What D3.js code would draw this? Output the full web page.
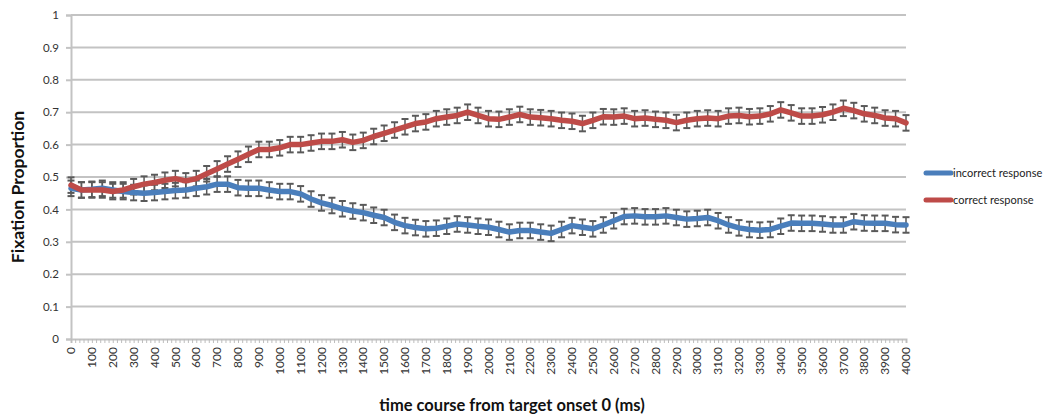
<!DOCTYPE html>
<html>
<head>
<meta charset="utf-8">
<script src="https://cdn.jsdelivr.net/npm/d3@7"></script>
<style>
  body { margin: 0; background: #fff; }
  svg { font-family: Lato, "Open Sans", sans-serif; }
</style>
</head>
<body>
<svg id="chart" width="1052" height="418"></svg>
<script>
// time points (ms)
const timeMs = [0, 50, 100, 150, 200, 250, 300, 350, 400, 450, 500, 550, 600, 650, 700, 750, 800, 850, 900, 950,
  1000, 1050, 1100, 1150, 1200, 1250, 1300, 1350, 1400, 1450, 1500, 1550, 1600, 1650, 1700, 1750, 1800, 1850, 1900, 1950,
  2000, 2050, 2100, 2150, 2200, 2250, 2300, 2350, 2400, 2450, 2500, 2550, 2600, 2650, 2700, 2750, 2800, 2850, 2900, 2950,
  3000, 3050, 3100, 3150, 3200, 3250, 3300, 3350, 3400, 3450, 3500, 3550, 3600, 3650, 3700, 3750, 3800, 3850, 3900, 3950,
  4000];

const incorrectResponse = [0.465, 0.46, 0.462, 0.465, 0.46, 0.455, 0.452, 0.45, 0.452, 0.455, 0.458, 0.46, 0.465, 0.47, 0.478, 0.478, 0.467, 0.465, 0.465, 0.46,
  0.455, 0.455, 0.448, 0.432, 0.42, 0.412, 0.402, 0.395, 0.39, 0.382, 0.375, 0.36, 0.35, 0.344, 0.34, 0.342, 0.348, 0.355, 0.352, 0.348,
  0.345, 0.338, 0.33, 0.335, 0.335, 0.33, 0.326, 0.338, 0.35, 0.345, 0.34, 0.352, 0.365, 0.378, 0.38, 0.377, 0.377, 0.38, 0.375, 0.37,
  0.372, 0.375, 0.365, 0.352, 0.343, 0.338, 0.336, 0.338, 0.348, 0.358, 0.357, 0.357, 0.355, 0.352, 0.352, 0.362, 0.358, 0.357, 0.357, 0.353,
  0.352];

const correctResponse = [0.475, 0.46, 0.46, 0.46, 0.455, 0.46, 0.47, 0.478, 0.483, 0.49, 0.495, 0.488, 0.495, 0.51, 0.525, 0.54, 0.555, 0.57, 0.585, 0.585,
  0.59, 0.6, 0.6, 0.605, 0.61, 0.61, 0.615, 0.607, 0.613, 0.625, 0.635, 0.645, 0.655, 0.665, 0.67, 0.68, 0.685, 0.69, 0.7, 0.69,
  0.68, 0.678, 0.685, 0.693, 0.685, 0.683, 0.68, 0.675, 0.672, 0.665, 0.675, 0.686, 0.685, 0.688, 0.68, 0.682, 0.678, 0.675, 0.668, 0.675,
  0.68, 0.682, 0.68, 0.688, 0.69, 0.686, 0.688, 0.695, 0.707, 0.698, 0.688, 0.688, 0.692, 0.7, 0.712, 0.705, 0.695, 0.69, 0.682, 0.68,
  0.667];

// standard error (approx) for each series
const seriesError = [0.024, 0.024];

const seriesNames = ["incorrect response", "correct response"];
const seriesColors = ["#4a7ebb", "#be4b48"];

const yTicks = [0, 0.1, 0.2, 0.3, 0.4, 0.5, 0.6, 0.7, 0.8, 0.9, 1];
const xLabelTicks = [0, 100, 200, 300, 400, 500, 600, 700, 800, 900, 1000, 1100, 1200, 1300, 1400, 1500, 1600, 1700, 1800, 1900,
  2000, 2100, 2200, 2300, 2400, 2500, 2600, 2700, 2800, 2900, 3000, 3100, 3200, 3300, 3400, 3500, 3600, 3700, 3800, 3900, 4000];

const dims = { left: 71, right: 906, top: 15, bottom: 339 };

const svg = d3.select("#chart");

const xScale = d3.scaleLinear().domain([0, 4000]).range([dims.left, dims.right]);
const yScale = d3.scaleLinear().domain([0, 1]).range([dims.bottom, dims.top]);

// gridlines
svg.append("g")
  .selectAll("line")
  .data(yTicks.filter(d => d > 0))
  .enter()
  .append("line")
  .attr("x1", dims.left)
  .attr("x2", dims.right)
  .attr("y1", d => yScale(d))
  .attr("y2", d => yScale(d))
  .attr("stroke", "#c3c3c3")
  .attr("stroke-width", 2);

// y axis
const yAxis = d3.axisLeft(yScale).tickValues(yTicks).tickSize(5).tickFormat(d => d);
svg.append("g")
  .attr("transform", `translate(${dims.left},0)`)
  .call(yAxis)
  .call(g => g.select(".domain").attr("stroke", "#c3c3c3").attr("stroke-width", 2))
  .call(g => g.selectAll(".tick line").attr("stroke", "#c3c3c3").attr("stroke-width", 2))
  .call(g => g.selectAll("text").attr("fill", "#333").attr("font-size", 11.5).attr("x", -12).attr("font-family", "Lato, sans-serif"));

// x axis: minor ticks every 20 ms
const minorTicks = d3.range(0, 4001, 20);
const xAxisMinor = d3.axisBottom(xScale).tickValues(minorTicks).tickSize(4).tickFormat("");
svg.append("g")
  .attr("transform", `translate(0,${dims.bottom})`)
  .call(xAxisMinor)
  .call(g => g.select(".domain").attr("stroke", "#c3c3c3").attr("stroke-width", 2))
  .call(g => g.selectAll(".tick line").attr("stroke", "#bdbdbd").attr("stroke-width", 1));

// x labels rotated
svg.append("g")
  .selectAll("text")
  .data(xLabelTicks)
  .enter()
  .append("text")
  .attr("transform", d => `translate(${xScale(d)},347) rotate(-90)`)
  .attr("text-anchor", "end")
  .attr("dy", "0.35em")
  .attr("font-size", 12)
  .attr("fill", "#333")
  .text(d => d);

// axis titles
svg.append("text")
  .attr("transform", `translate(24,${(dims.top + dims.bottom) / 2 + 10}) rotate(-90)`)
  .attr("text-anchor", "middle")
  .attr("font-size", 17.5)
  .attr("font-weight", "bold")
  .attr("fill", "#111")
  .text("Fixation Proportion");

svg.append("text")
  .attr("x", 512)
  .attr("y", 411)
  .attr("text-anchor", "middle")
  .attr("font-size", 16.5)
  .attr("font-weight", "bold")
  .attr("fill", "#111")
  .text("time course from target onset 0 (ms)");

const allSeries = [incorrectResponse, correctResponse];

// error bars
allSeries.forEach((values, i) => {
  const err = seriesError[i];
  const g = svg.append("g").attr("class", "errbars");
  values.forEach((v, j) => {
    const x = xScale(timeMs[j]);
    const y1 = yScale(v + err);
    const y2 = yScale(v - err);
    g.append("line").attr("x1", x).attr("x2", x).attr("y1", y1).attr("y2", y2)
      .attr("stroke", "#595959").attr("stroke-width", 1.5);
    [y1, y2].forEach(yy => {
      g.append("line").attr("x1", x - 3.5).attr("x2", x + 3.5).attr("y1", yy).attr("y2", yy)
        .attr("stroke", "#595959").attr("stroke-width", 2);
    });
  });
});

// lines
const line = d3.line()
  .x((d, j) => xScale(timeMs[j]))
  .y(d => yScale(d));

allSeries.forEach((values, i) => {
  svg.append("path")
    .datum(values)
    .attr("d", line)
    .attr("fill", "none")
    .attr("stroke", seriesColors[i])
    .attr("stroke-width", 5.5)
    .attr("stroke-linejoin", "round")
    .attr("stroke-linecap", "round");
});

// legend
const legend = svg.append("g");
seriesNames.forEach((name, i) => {
  const y = 173 + i * 27;
  legend.append("line")
    .attr("x1", 926).attr("x2", 951).attr("y1", y).attr("y2", y)
    .attr("stroke", seriesColors[i]).attr("stroke-width", 5).attr("stroke-linecap", "round");
  legend.append("text")
    .attr("x", 953).attr("y", y).attr("dy", "0.35em")
    .attr("font-size", 11).attr("fill", "#222")
    .text(name);
});
</script>
</body>
</html>
